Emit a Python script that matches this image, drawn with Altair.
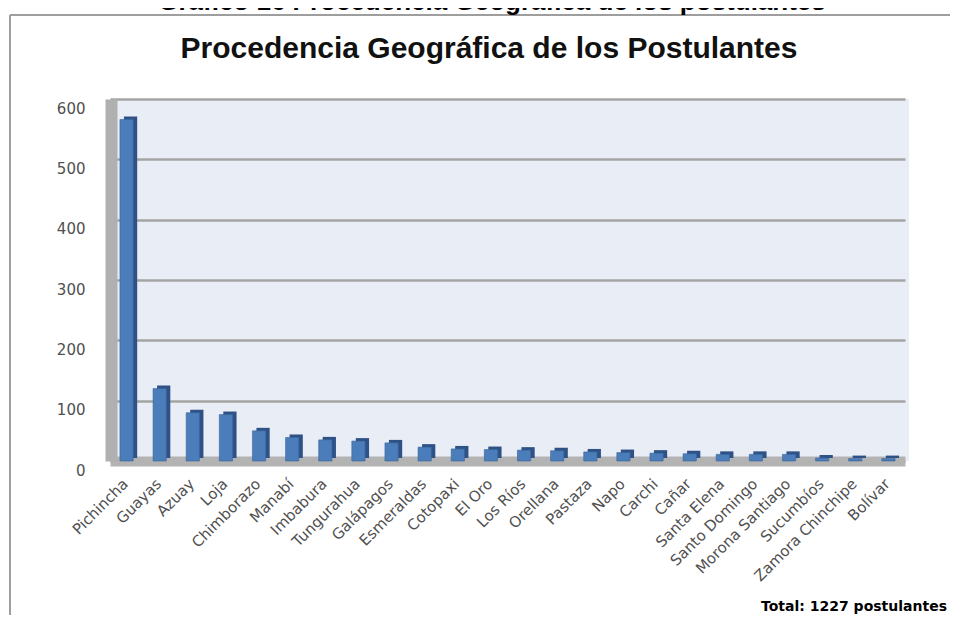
import altair as alt
import pandas as pd

provincias = ["Pichincha", "Guayas", "Azuay", "Loja", "Chimborazo", "Manabí",
              "Imbabura", "Tungurahua", "Galápagos", "Esmeraldas", "Cotopaxi",
              "El Oro", "Los Ríos", "Orellana", "Pastaza", "Napo", "Carchi",
              "Cañar", "Santa Elena", "Santo Domingo", "Morona Santiago",
              "Sucumbíos", "Zamora Chinchipe", "Bolívar"]
postulantes = [566, 120, 80, 77, 50, 39, 35, 33, 30, 23, 20, 19, 18, 17, 15,
               14, 13, 12, 11, 11, 11, 5, 4, 4]
y_ticks = [0, 100, 200, 300, 400, 500, 600]

caption = "Gráfico 16 Procedencia Geográfica de los postulantes"
titulo = "Procedencia Geográfica de los Postulantes"
total_txt = "Total: 1227 postulantes"

df = pd.DataFrame({"provincia": provincias, "postulantes": postulantes})
one = pd.DataFrame({"k": [0]})

W, H = 792, 362

x_enc = alt.X(
    "provincia:N", sort=provincias,
    scale=alt.Scale(range=[-7, 788], paddingInner=0.6, paddingOuter=0.3),
    axis=alt.Axis(title=None, labelAngle=315, labelFont="DejaVu Sans",
                  labelFontSize=15, labelColor="#505050", ticks=False,
                  domainWidth=10, domainColor="#B3B3B3", labelPadding=15,
                  labelOffset=-6, grid=False),
)
y_enc = alt.Y(
    "postulantes:Q",
    scale=alt.Scale(domain=[0, 600], nice=False),
    axis=alt.Axis(title=None, values=y_ticks, labelFont="DejaVu Sans",
                  labelFontSize=15, labelColor="#505050", ticks=False,
                  offset=6, domainWidth=12, domainColor="#B0B0B0",
                  labelPadding=26, labelOffset=9, grid=True,
                  gridColor="#A4A4A4", gridWidth=2.5),
)

shadow = alt.Chart(df).mark_bar(
    color="#2E5286", xOffset=4, yOffset=-3, y2Offset=-3
).encode(x=x_enc, y=y_enc)

bars = alt.Chart(df).mark_bar(
    color="#4A7DBA", stroke="#3B6699", strokeWidth=0.6
).encode(x=x_enc, y=y_enc)

frame_top = alt.Chart(one).mark_rule(color="#9E9E9E", strokeWidth=2).encode(
    x=alt.value(-107), x2=alt.value(845), y=alt.value(-84))
frame_left = alt.Chart(one).mark_rule(color="#9E9E9E", strokeWidth=2).encode(
    x=alt.value(-107), y=alt.value(-84), y2=alt.value(530))

cap_text = alt.Chart(one).mark_text(
    text=caption, font="Liberation Sans", fontWeight="bold", fontSize=26,
    align="center", baseline="alphabetic", color="#000000"
).encode(x=alt.value(375), y=alt.value(-89))

title_text = alt.Chart(one).mark_text(
    text=titulo, font="Liberation Sans", fontWeight="bold", fontSize=30,
    align="center", baseline="alphabetic", color="#111111"
).encode(x=alt.value(372), y=alt.value(-41))

total_text = alt.Chart(one).mark_text(
    text=total_txt, font="DejaVu Sans", fontWeight="bold", fontSize=14,
    align="right", baseline="alphabetic", color="#000000"
).encode(x=alt.value(830), y=alt.value(512))

chart = alt.layer(
    shadow, bars, frame_top, frame_left, cap_text, title_text, total_text
).properties(
    width=W, height=H,
    autosize=alt.AutoSizeParams(type="none"),
    padding={"left": 109, "top": 91, "right": 41, "bottom": 154},
    background="white",
).configure_view(fill="#E9EDF6", stroke=None)

chart.save("out.html", embed_options={"renderer": "svg", "actions": False})
